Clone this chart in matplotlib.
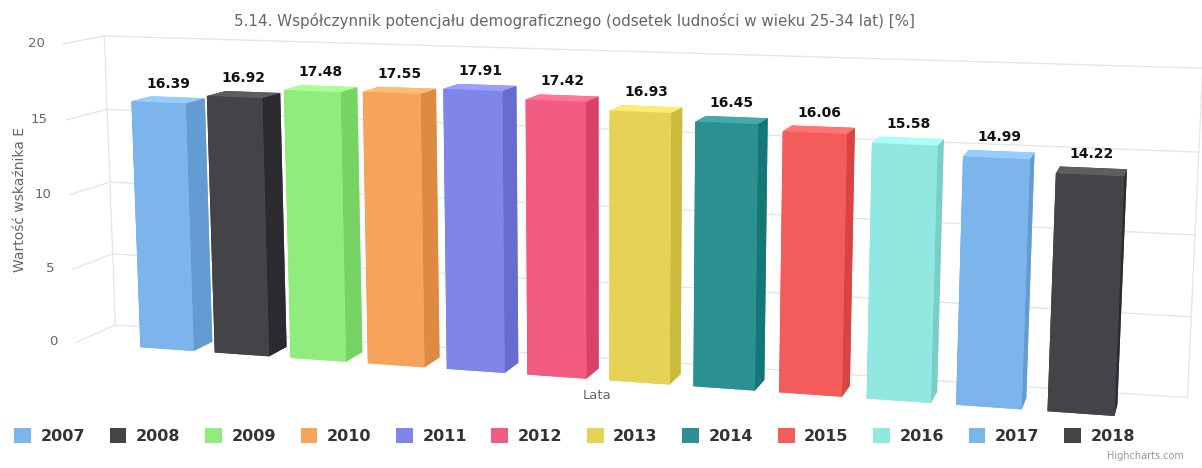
import numpy as np
import matplotlib.pyplot as plt
from matplotlib.patches import Patch
from matplotlib.colors import to_rgb

years = ['2007', '2008', '2009', '2010', '2011', '2012',
         '2013', '2014', '2015', '2016', '2017', '2018']
values = [16.39, 16.92, 17.48, 17.55, 17.91, 17.42,
          16.93, 16.45, 16.06, 15.58, 14.99, 14.22]
colors = ['#7cb5ec', '#434348', '#90ed7d', '#f7a35c', '#8085e9', '#f15c80',
          '#e4d354', '#2b908f', '#f45b5b', '#91e8e1', '#7cb5ec', '#434348']
y_ticks = [0, 5, 10, 15, 20]

title = '5.14. Współczynnik potencjału demograficznego (odsetek ludności w wieku 25-34 lat) [%]'


def brighten(c, k):
    return tuple(np.clip(np.array(to_rgb(c)) + k, 0, 1))


fig = plt.figure(figsize=(12.02, 4.68), dpi=100)
ax = fig.add_axes([0.0225, 0.06, 0.95, 0.94], projection='3d')
ax.set_proj_type('persp', focal_length=0.95)
ax.view_init(elev=10, azim=-74)

n = len(values)
xpos = np.arange(n)
bar_w = 0.72
depth = 1.0
x0, x1 = -1.25, 12.1

# per-face colours: bottom, top, front, back, left, right
face_cols = []
for c in colors:
    face_cols += [c, brighten(c, 0.1), c, c, brighten(c, -0.1), brighten(c, -0.1)]

bars = ax.bar3d(xpos - bar_w / 2, np.zeros(n), np.zeros(n), bar_w, depth, values,
                color=face_cols, shade=False, edgecolor='none')
bars.set_clip_on(False)

for x, v in zip(xpos, values):
    ax.text(x, depth / 2, v + 0.6, f'{v:.2f}', ha='center', va='bottom',
            fontsize=10, fontweight='bold', color='#111111', zorder=100)

ax.set_xlim(x0, x1)
ax.set_ylim(0, 2)
ax.set_zlim(0, 20)
ax.set_zticks(y_ticks)
ax.set_xticks([])
ax.set_yticks([])
ax.set_zticklabels([])
ax.set_box_aspect((12.93, 1.0, 3.6), zoom=2.625)

for axis in (ax.xaxis, ax.yaxis, ax.zaxis):
    axis.set_pane_color((1, 1, 1, 0))
    axis.pane.set_edgecolor((1, 1, 1, 0))
    axis.line.set_color((1, 1, 1, 0))
    axis._axinfo['grid']['color'] = '#e6e6e6'
    axis._axinfo['grid']['linewidth'] = 1.0
ax.zaxis._axinfo['tick']['inward_factor'] = 0
ax.zaxis._axinfo['tick']['outward_factor'] = 0

# value labels at the front edge of the side wall
for t in y_ticks:
    ax.text(x0 - 0.25, 0, t, str(t), ha='right', va='center', fontsize=9.5,
            color='#666666', clip_on=False)

# back-wall vertical edges
ax.plot([x0, x0], [2, 2], [0, 20], color='#e6e6e6', lw=1, clip_on=False)
ax.plot([x1, x1], [2, 2], [0, 20], color='#e6e6e6', lw=1, clip_on=False)

fig.text(0.478, 0.955, title, ha='center', va='center', fontsize=10.9, color='#666666')
fig.text(0.017, 0.573, 'Wartość wskaźnika E', rotation=90, ha='center', va='center',
         fontsize=10, color='#666666')
fig.text(0.497, 0.155, 'Lata', ha='center', va='center', fontsize=9.5, color='#666666')
fig.text(0.985, 0.015, 'Highcharts.com', ha='right', va='bottom', fontsize=7, color='#999999')

handles = [Patch(facecolor=c, edgecolor='none') for c in colors]
fig.legend(handles, years, loc='center', bbox_to_anchor=(0.478, 0.068), ncol=n,
           frameon=False, handlelength=1.05, handleheight=1.0, columnspacing=1.54,
           handletextpad=0.6, prop={'weight': 'bold', 'size': 11.5}, labelcolor='#333333')

plt.savefig('out.png', dpi=100)
